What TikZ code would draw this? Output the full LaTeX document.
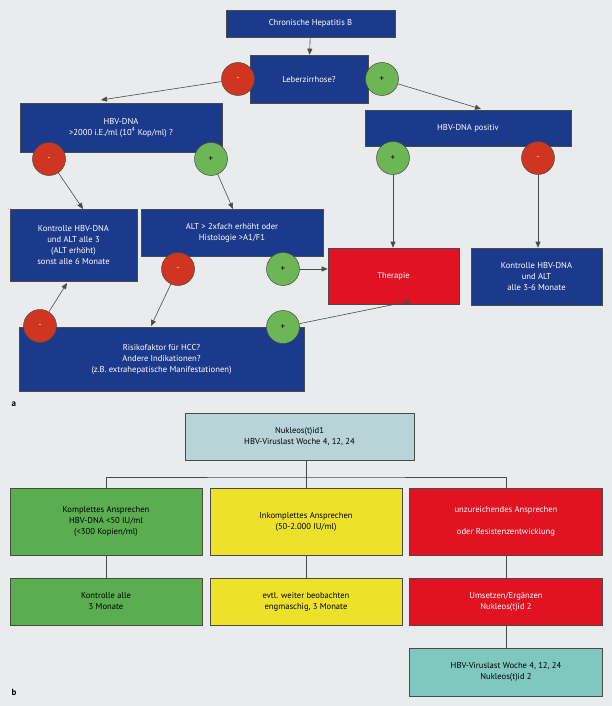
\documentclass[tikz,border=0pt]{standalone}
\usepackage{fontspec}
\setmainfont{PT Sans}
\usetikzlibrary{arrows.meta}
\definecolor{bg}{HTML}{EAEBED}
\definecolor{dblue}{HTML}{1B3A8C}
\definecolor{cred}{HTML}{CF3520}
\definecolor{cgreen}{HTML}{6DB656}
\definecolor{thred}{HTML}{E21225}
\definecolor{bgreen}{HTML}{5AAE50}
\definecolor{byel}{HTML}{EDE12A}
\definecolor{bred}{HTML}{E11323}
\definecolor{bteal}{HTML}{7EC8C0}
\definecolor{blight}{HTML}{B8D4D8}
\definecolor{edge}{HTML}{4A4A4A}
\begin{document}
\begin{tikzpicture}[x=1pt,y=-1pt,
  box/.style={draw=edge,line width=0.6pt,inner sep=0pt,align=center,font=\fontsize{8.6}{11}\selectfont},
  bbox/.style={box,fill=dblue,text=white},
  lbox/.style={box,fill=#1,text=black},
  mc/.style={circle,draw=edge,line width=0.5pt,fill=cred,minimum size=33pt,inner sep=0pt,text=white,font=\fontsize{8}{9}\selectfont},
  pc/.style={circle,draw=edge,line width=0.5pt,fill=cgreen,minimum size=33pt,inner sep=0pt,text=black,font=\fontsize{9}{9}\selectfont},
  arr/.style={draw=edge,line width=0.6pt,-{Triangle[length=6pt,width=5pt]}},
  ln/.style={draw=edge,line width=0.8pt}]
\fill[bg] (0,0) rectangle (612,706);
\useasboundingbox (0,0) rectangle (612,706);
% panel a
\node[bbox,minimum width=169pt,minimum height=27pt] (chb) at (310.5,23.5) {Chronische Hepatitis B};
\node[bbox,minimum width=118pt,minimum height=48pt] (lz) at (309,79) {Leberzirrhose?};
\node[bbox,minimum width=202pt,minimum height=49pt] (dna) at (121,127.5) {HBV-DNA\\>2000 i.E./ml (10\textsuperscript{4} Kop/ml) ?};
\node[bbox,minimum width=206pt,minimum height=36pt] (pos) at (468,128) {HBV-DNA positiv};
\node[bbox,minimum width=127pt,minimum height=72pt] (kl) at (73.5,245) {Kontrolle HBV-DNA\\und ALT alle 3\\(ALT erhöht)\\sonst alle 6 Monate};
\node[bbox,minimum width=182pt,minimum height=47pt] (alt) at (232,232.5) {ALT > 2xfach erhöht oder\\Histologie >A1/F1};
\node[box,fill=thred,text=white,minimum width=131pt,minimum height=56pt] (th) at (393.5,276) {Therapie};
\node[bbox,minimum width=131pt,minimum height=57pt] (kr) at (536.5,276.5) {Kontrolle HBV-DNA\\und ALT\\alle 3-6 Monate};
\node[bbox,minimum width=285pt,minimum height=64pt] (ri) at (161.5,359) {Risikofaktor für HCC?\\Andere Indikationen?\\(z.B. extrahepatische Manifestationen)};
\node[mc] (m1) at (238,79) {-};
\node[pc] (p1) at (382,79) {+};
\node[mc] (m2) at (49,159) {-};
\node[pc] (p2) at (211,159) {+};
\node[pc] (p3) at (393,158) {+};
\node[mc] (m3) at (538,158) {-};
\node[mc] (m4) at (178,269) {-};
\node[pc] (p4) at (283,269) {+};
\node[mc] (m5) at (40,326) {-};
\node[pc] (p5) at (283,327) {+};
\draw[arr] (chb) -- (lz);
\coordinate (e1) at (101,100);
\coordinate (e2) at (481,109);
\coordinate (e3) at (83,209);
\coordinate (e4) at (233,209);
\coordinate (e5) at (151,326);
\coordinate (e6) at (67,283);
\coordinate (e7) at (411,301);
\draw[arr] (m1) -- (e1);
\draw[arr] (p1) -- (e2);
\draw[arr] (m2) -- (e3);
\draw[arr] (p2) -- (e4);
\draw[arr] (p3) -- (p3 |- th.north);
\draw[arr] (m3) -- (m3 |- kr.north);
\draw[arr] (m4) -- (e5);
\draw[arr] (p4) -- (p4 -| th.west);
\draw[arr] (m5) -- (e6);
\draw[arr] (p5) -- (e7);
\node[anchor=west,font=\bfseries\fontsize{9}{10}\selectfont] (la) at (8,404) {a};
% panel b
\node[lbox=blight,minimum width=229pt,minimum height=47pt] (nk) at (299.5,436.5) {Nukleos(t)id1\\HBV-Viruslast Woche 4, 12, 24};
\node[lbox=bgreen,minimum width=192pt,minimum height=67pt] (g1) at (106,521.5) {Komplettes Ansprechen\\HBV-DNA <50 IU/ml\\(<300 Kopien/ml)};
\node[lbox=byel,minimum width=192pt,minimum height=67pt] (y1) at (306,521.5) {Inkomplettes Ansprechen\\(50-2.000 IU/ml)};
\node[box,fill=bred,text=white,minimum width=193pt,minimum height=67pt] (r1) at (506,521.5) {unzureichendes Ansprechen\\[11pt]oder Resistenzentwicklung};
\node[lbox=bgreen,minimum width=192pt,minimum height=47pt] (g2) at (106,601.5) {Kontrolle alle\\3 Monate};
\node[lbox=byel,minimum width=192pt,minimum height=47pt] (y2) at (306,601.5) {evtl. weiter beobachten\\engmaschig, 3 Monate};
\node[box,fill=bred,text=white,minimum width=193pt,minimum height=47pt] (r2) at (506,601.5) {Umsetzen/Ergänzen\\Nukleos(t)id 2};
\node[lbox=bteal,minimum width=193pt,minimum height=48pt] (t3) at (506,672) {HBV-Viruslast Woche 4, 12, 24\\Nukleos(t)id 2};
\coordinate (j) at (306,477);
\draw[ln] (nk.south -| j) -- (j);
\draw[ln] (g1.north) |- (j) -| (r1.north);
\draw[ln] (j) -- (y1.north);
\draw[ln] (g1) -- (g2);
\draw[ln] (y1) -- (y2);
\draw[ln] (r1) -- (r2);
\draw[ln] (r2) -- (t3);
\node[anchor=west,font=\bfseries\fontsize{9}{10}\selectfont] (lb) at (8,692) {b};
\end{tikzpicture}
\end{document}
